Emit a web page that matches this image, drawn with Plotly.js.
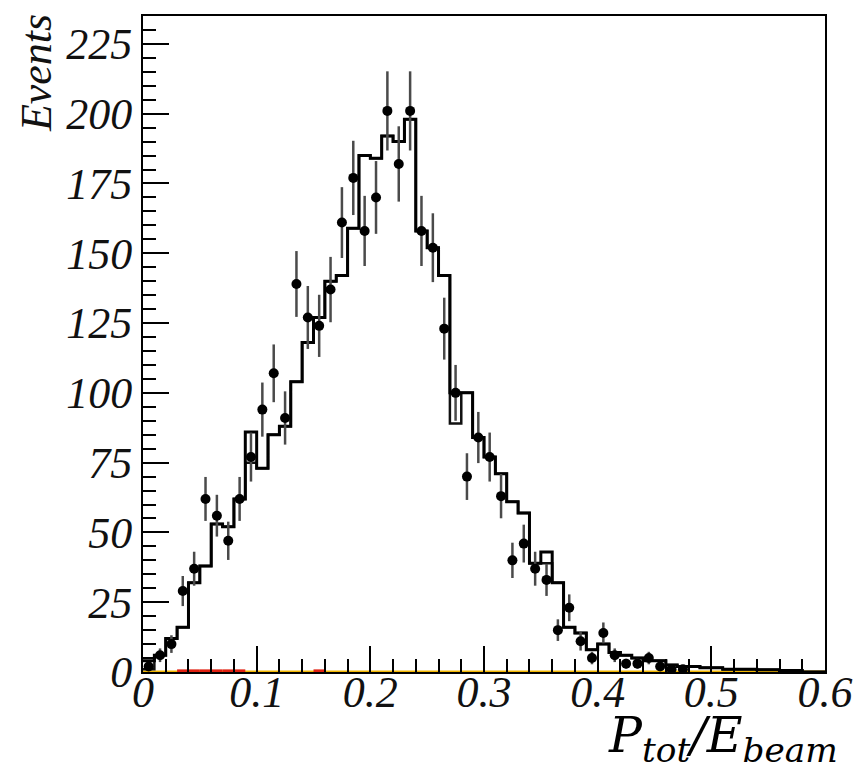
<!DOCTYPE html>
<html>
<head>
<meta charset="utf-8">
<script src="https://cdn.plot.ly/plotly-3.0.1.min.js"></script>
<style>html,body{margin:0;padding:0;background:#fff;}#plot{width:861px;height:771px;}</style>
</head>
<body>
<div id="plot"></div>
<script>
// Binning: 60 bins of width 0.01 from 0 to 0.6
var binLow = 0.0;
var binWidth = 0.01;
var nBins = 60;

// Data points (events per bin)
var dataCounts = [2,6,10,29,37,62,56,47,62,77,94,107,91,139,127,124,137,161,177,158,
                  170,201,182,201,158,152,123,100,70,84,77,63,40,46,37,33,15,23,11,5,
                  14,6,3,3,5,2,1,1,0,0,0,0,0,0,0,0,0,0,0,0];

// MC total histogram
var mcTotal = [4,6,12,16,32,38,53,52,62,86,73,85,88,104,118,127,140,142,159,185,
               184,192,190,198,158,152,142,100,100,84,77,71,61,57,39,43,32,16,14,8,
               10,7,6,5,4,4,2.5,2,2,1.5,1.5,1,1,1,0.8,0.8,0.5,0.5,0,0];

// Second MC histogram (overlaid, differs in a few bins)
var mcAlt = [1,6,12,16,32,38,53,52,62,75,73,85,88,104,118,127,140,142,159,185,
             184,192,190,198,158,152,142,89,100,84,77,71,61,57,39,39,32,16,14,8,
             10,7,6,5,4,4,2.5,2,2,1.5,1.5,1,1,1,0.8,0.8,0.5,0.5,0,0];

// Small background components
var bkgRed = [0,0,0,0.4,0.4,0.4,0.4,0.4,0.4,0,0,0,0,0,0,0.4,0,0,0,0,
              0,0,0,0,0,0,0,0,0,0,0,0,0,0,0,0,0,0,0,0,
              0,0,0,0,0,0,0,0,0,0,0,0,0,0,0,0,0,0,0,0];
var bkgOrange = [0,0,0,0,0,0,0,0,0,0,0,0,0,0,0,0,0,0,0,0,
                 0,0,0,0,0,0,0,0,0,0,0,0,0,0,0,0,0,0,0,0,
                 0,0,0,0,0,0,0,0,0,0,0,0,0,0,0,0,0,0,0,0];

var xTickVals = [0,0.1,0.2,0.3,0.4,0.5,0.6];
var xTickText = ['0','0.1','0.2','0.3','0.4','0.5','0.6'];
var yTickVals = [0,25,50,75,100,125,150,175,200,225];
var yTickText = ['0','25','50','75','100','125','150','175','200','225'];

function edges(){ var e=[]; for(var i=0;i<=nBins;i++) e.push(+(binLow+i*binWidth).toFixed(4)); return e; }
function centers(){ var c=[]; for(var i=0;i<nBins;i++) c.push(+(binLow+(i+0.5)*binWidth).toFixed(4)); return c; }
function stepXY(vals){
  var e=edges(); var x=[],y=[];
  for(var i=0;i<nBins;i++){ x.push(e[i]); y.push(vals[i]); }
  x.push(e[nBins]); y.push(vals[nBins-1]);
  return {x:x,y:y};
}
function segXY(vals){
  var e=edges(); var x=[],y=[];
  for(var i=0;i<nBins;i++){ if(vals[i]>0){ x.push(e[i],e[i+1],null); y.push(vals[i],vals[i],null);} }
  return {x:x,y:y};
}
function ital(a){ return a.map(function(s){ return '<i>'+s+'</i>'; }); }

var c = centers();
var dx=[],dy=[],de=[];
for(var i=0;i<nBins;i++){ if(dataCounts[i]>0){ dx.push(c[i]); dy.push(dataCounts[i]); de.push(Math.sqrt(dataCounts[i])); } }

var s1 = stepXY(mcTotal), s2 = stepXY(mcAlt), sr = segXY(bkgRed), so = stepXY(bkgOrange);

var traces = [
  {x: so.x, y: so.y, mode:'lines', line:{shape:'hv', color:'#f2b600', width:3}, hoverinfo:'skip'},
  {x: sr.x, y: sr.y, mode:'lines', line:{color:'#e02010', width:3}, hoverinfo:'skip'},
  {x: s2.x, y: s2.y, mode:'lines', line:{shape:'hv', color:'#111', width:2.5}},
  {x: s1.x, y: s1.y, mode:'lines', line:{shape:'hv', color:'#000', width:3}},
  {x: dx, y: dy, mode:'markers', marker:{color:'#000', size:10},
   error_y:{type:'data', array: de, visible:true, color:'#4a4a4a', thickness:2.5, width:0}}
];

var tickFont = {family:'Liberation Serif, Times New Roman, serif', size:44, color:'#111'};

var layout = {
  width:861, height:771,
  margin:{l:143, r:36, t:16, b:99, pad:0},
  paper_bgcolor:'#fff', plot_bgcolor:'#fff',
  showlegend:false,
  xaxis:{range:[0,0.6], tickvals:xTickVals, ticktext:ital(xTickText), ticks:'inside', ticklen:26, tickwidth:2, tickcolor:'#000',
         minor:{dtick:0.02, ticks:'inside', ticklen:13, tickwidth:2, tickcolor:'#000', showgrid:false},
         showline:true, linecolor:'#000', linewidth:2, mirror:true, showgrid:false, zeroline:false,
         ticklabelstandoff:-20, tickfont:tickFont},
  yaxis:{range:[0,235], tickvals:yTickVals, ticktext:ital(yTickText), ticks:'inside', ticklen:26, tickwidth:2, tickcolor:'#000',
         minor:{dtick:5, ticks:'inside', ticklen:13, tickwidth:2, tickcolor:'#000', showgrid:false},
         showline:true, linecolor:'#000', linewidth:2, mirror:true, showgrid:false, zeroline:false,
         tickfont:tickFont},
  annotations:[
    {text:'<i>Events</i>', xref:'paper', yref:'paper', x:(36-143)/682, y:1.006, xanchor:'center', yanchor:'top',
     textangle:-90, showarrow:false, font:{family:'Liberation Serif, Times New Roman, serif', size:44, color:'#111'}},
    {text:'<i>P</i><sub><i>tot</i></sub><i>/E</i><sub><i>beam</i></sub>', xref:'paper', yref:'paper',
     x:(840-143)/682, y:(672-738)/656, xanchor:'right', yanchor:'middle', showarrow:false,
     font:{family:'DejaVu Serif, serif', size:49, color:'#000'}}
  ]
};

Plotly.newPlot('plot', traces, layout, {staticPlot:true, displayModeBar:false});
</script>
</body>
</html>
